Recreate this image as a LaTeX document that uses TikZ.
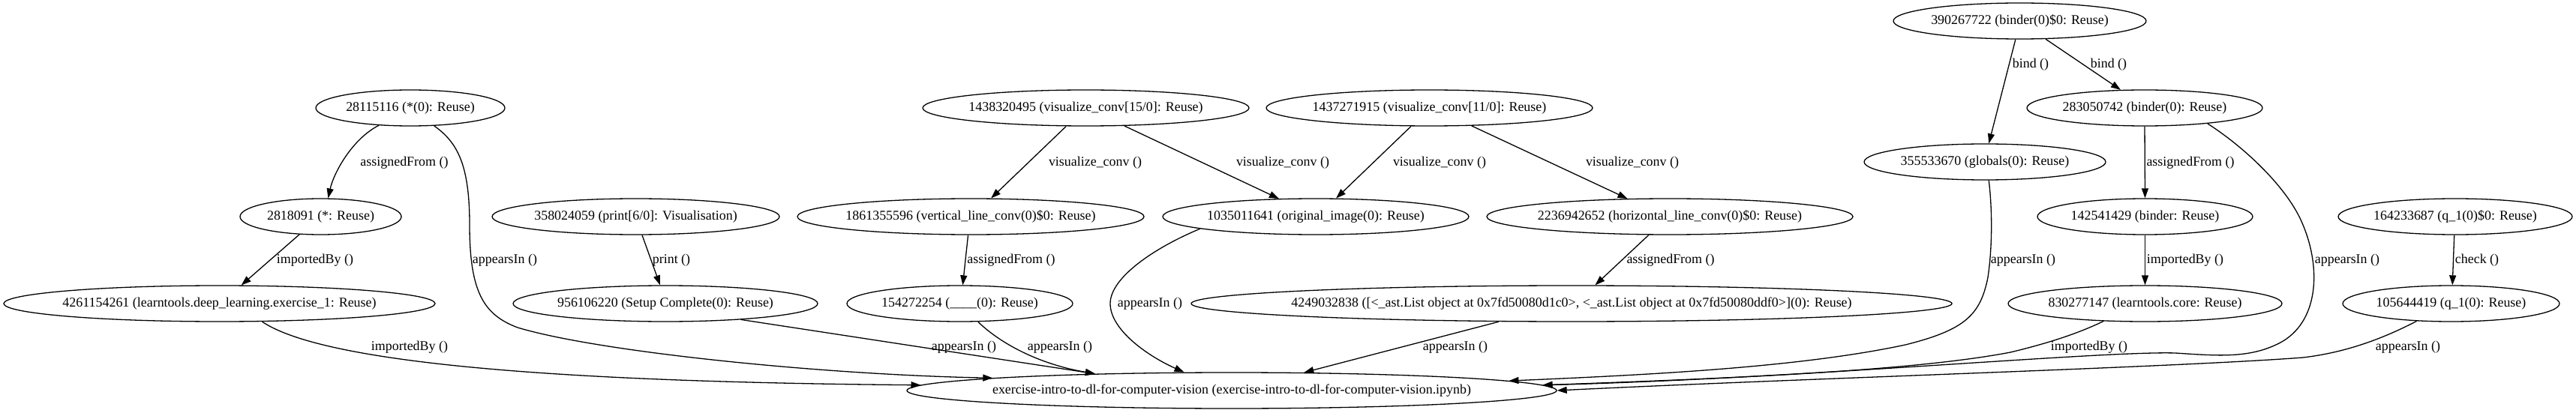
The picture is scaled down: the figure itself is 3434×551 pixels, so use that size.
\documentclass[tikz,border=0pt]{standalone}
\usepackage{fontspec}
\setmainfont{Liberation Serif}
\usetikzlibrary{shapes.geometric,arrows.meta}
\newcommand{\zt}[1]{\makebox[0pt]{#1}}
\begin{document}
\begin{tikzpicture}[x=1bp,y=-1bp,
  nd/.style={ellipse,draw,line width=1.3bp,inner sep=0pt,minimum height=48bp,font=\fontsize{18}{20}\selectfont},
  lb/.style={inner sep=0pt,font=\fontsize{18}{20}\selectfont},
  ed/.style={line width=1.3bp,-{Triangle[length=13bp,width=9bp]}}]
\fill[white] (0,0) rectangle (3434,551);
\useasboundingbox (0,0) rectangle (3434,551);
% nodes
\node[nd,minimum width=252bp] (a28115116) at (547,144) {\zt{28115116 (*(0): Reuse)}};
\node[nd,minimum width=215bp] (a2818091) at (427.5,289) {\zt{2818091 (*: Reuse)}};
\node[nd,minimum width=575bp] (a4261154261) at (292.5,405) {\zt{4261154261 (learntools.deep\_learning.exercise\_1: Reuse)}};
\node[nd,minimum width=383bp] (a358024059) at (847.5,289) {\zt{358024059 (print[6/0]: Visualisation)}};
\node[nd,minimum width=406bp] (a956106220) at (887,405) {\zt{956106220 (Setup Complete(0): Reuse)}};
\node[nd,minimum width=435bp] (a1438320495) at (1447.5,144) {\zt{1438320495 (visualize\_conv[15/0]: Reuse)}};
\node[nd,minimum width=462bp] (a1861355596) at (1294,289) {\zt{1861355596 (vertical\_line\_conv(0)\$0: Reuse)}};
\node[nd,minimum width=301bp] (a154272254) at (1279.5,405) {\zt{154272254 (\_\_\_\_(0): Reuse)}};
\node[nd,minimum width=408bp] (a1035011641) at (1754,289) {\zt{1035011641 (original\_image(0): Reuse)}};
\node[nd,minimum width=435bp] (a1437271915) at (1905.5,144) {\zt{1437271915 (visualize\_conv[11/0]: Reuse)}};
\node[nd,minimum width=488bp] (a2236942652) at (2226,289) {\zt{2236942652 (horizontal\_line\_conv(0)\$0: Reuse)}};
\node[nd,minimum width=1014bp] (a4249032838) at (2095,405) {\zt{4249032838 ([<\_ast.List object at 0x7fd50080d1c0>, <\_ast.List object at 0x7fd50080ddf0>](0): Reuse)}};
\node[nd,minimum width=866bp] (aex) at (1642,521) {\zt{exercise-intro-to-dl-for-computer-vision (exercise-intro-to-dl-for-computer-vision.ipynb)}};
\node[nd,minimum width=337bp] (a390267722) at (2692.5,28) {\zt{390267722 (binder(0)\$0: Reuse)}};
\node[nd,minimum width=314bp] (a283050742) at (2859,144) {\zt{283050742 (binder(0): Reuse)}};
\node[nd,minimum width=322bp] (a355533670) at (2646,216) {\zt{355533670 (globals(0): Reuse)}};
\node[nd,minimum width=287bp] (a142541429) at (2859.5,289) {\zt{142541429 (binder: Reuse)}};
\node[nd,minimum width=365bp] (a830277147) at (2859.5,405) {\zt{830277147 (learntools.core: Reuse)}};
\node[nd,minimum width=312bp] (a164233687) at (3273,289) {\zt{164233687 (q\_1(0)\$0: Reuse)}};
\node[nd,minimum width=289bp] (a105644419) at (3267.5,405) {\zt{105644419 (q\_1(0): Reuse)}};
% edges
\draw[ed] (a28115116.209) .. controls (470,185) and (445,230) .. (a2818091.68.3);
\draw[ed] (a28115116.323.08) .. controls (610,190) and (626,220) .. (626,300) .. controls (626,390) and (645,420) .. (690,437) .. controls (800,470) and (1100,500) .. (aex.177.54);
\draw[ed] (a2818091.220.15) -- (a4261154261.40.98);
\draw[ed] (a4261154261.-23.39) .. controls (440,490) and (800,510) .. (aex.179.27);
\draw[ed] (a358024059.289.52) -- (a956106220.106.27);
\draw[ed] (a956106220.-12.4) -- (aex.173.73);
\draw[ed] (a1438320495.223.08) -- (a1861355596.42.53);
\draw[ed] (a1438320495.-25.27) -- (a1035011641.154.57);
\draw[ed] (a1861355596.262.87) -- (a154272254.81.7);
\draw[ed] (a154272254.-45.24) .. controls (1330,455) and (1380,485) .. (aex.173.44);
\draw[ed] (a1437271915.225.43) -- (a1035011641.42.47);
\draw[ed] (a1437271915.-23.09) -- (a2236942652.157.36);
\draw[ed] (a1035011641.186.73) .. controls (1540,330) and (1480,370) .. (1480,405) .. controls (1480,440) and (1530,475) .. (aex.159.94);
\draw[ed] (a2236942652.221.45) -- (a4249032838.38.62);
\draw[ed] (a4249032838.194.7) -- (aex.14.46);
\draw[ed] (a390267722.257.09) -- (a355533670.78.23);
\draw[ed] (a390267722.-35.07) -- (a283050742.143.71);
\draw[ed] (a283050742.south) -- (a142541429.north);
\draw[ed] (a142541429.south) -- (a830277147.north);
\draw[ed] (a355533670.-78.23) .. controls (2656,280) and (2656,330) .. (2650,370) .. controls (2640,420) and (2620,440) .. (2540,460) .. controls (2400,490) and (2200,500) .. (aex.2.12);
\draw[ed] (a830277147.203.64) .. controls (2770,445) and (2730,458) .. (2680,470) .. controls (2550,495) and (2300,505) .. (aex.1.316);
\draw[ed] (a283050742.-14.24) .. controls (2990,195) and (3050,250) .. (3070,300) .. controls (3095,360) and (3090,430) .. (3040,457) .. controls (3000,478) and (2960,475) .. (2900,471) .. controls (2800,468) and (2400,505) .. (aex.1.129);
\draw[ed] (a164233687.267.6) -- (a105644419.86.4);
\draw[ed] (a105644419.207.16) .. controls (3180,450) and (3130,470) .. (3070,477) .. controls (2900,490) and (2400,505) .. (aex.0.917);
% labels
\node[lb] (l1) at (539,217) {assignedFrom ()};
\node[lb] (l2) at (673,347) {appearsIn ()};
\node[lb] (l3) at (420,347) {importedBy ()};
\node[lb] (l4) at (546,463) {importedBy ()};
\node[lb] (l5) at (895,347) {print ()};
\node[lb] (l6) at (1285,463) {appearsIn ()};
\node[lb] (l7) at (1460,217) {visualize\_conv ()};
\node[lb] (l8) at (1710,217) {visualize\_conv ()};
\node[lb] (l9) at (1348,347) {assignedFrom ()};
\node[lb] (l10) at (1413,463) {appearsIn ()};
\node[lb] (l11) at (1919,217) {visualize\_conv ()};
\node[lb] (l12) at (2176,217) {visualize\_conv ()};
\node[lb] (l13) at (1533,405) {appearsIn ()};
\node[lb] (l14) at (2227,347) {assignedFrom ()};
\node[lb] (l15) at (1940,463) {appearsIn ()};
\node[lb] (l16) at (2707,86) {bind ()};
\node[lb] (l17) at (2811,86) {bind ()};
\node[lb] (l18) at (2920,217) {assignedFrom ()};
\node[lb] (l19) at (2913,347) {importedBy ()};
\node[lb] (l20) at (2697,347) {appearsIn ()};
\node[lb] (l21) at (2785,463) {importedBy ()};
\node[lb] (l22) at (3129,347) {appearsIn ()};
\node[lb] (l23) at (3302,347) {check ()};
\node[lb] (l24) at (3210,463) {appearsIn ()};
\end{tikzpicture}
\end{document}
